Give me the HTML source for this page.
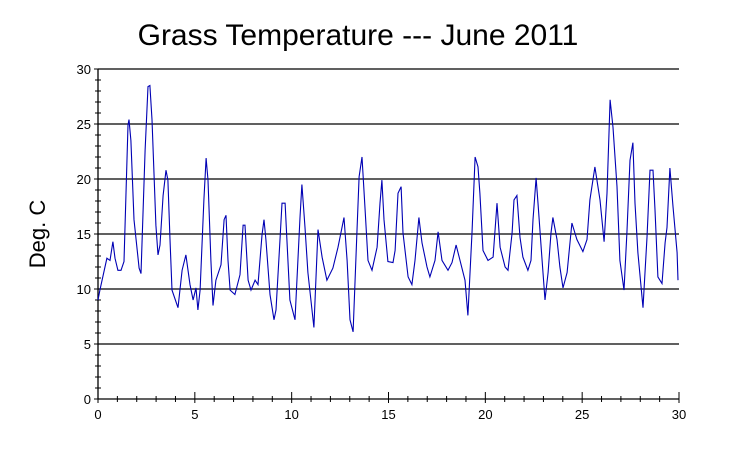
<!DOCTYPE html>
<html><head><meta charset="utf-8"><style>
body{margin:0;background:#fff;width:735px;height:449px;overflow:hidden}
svg{display:block;font-family:"Liberation Sans",sans-serif}
</style></head><body>
<svg id="chart" width="735" height="449">
<text x="358" y="45" text-anchor="middle" font-size="30" fill="#000">Grass Temperature --- June 2011</text>
<text transform="translate(45,234) rotate(-90)" text-anchor="middle" font-size="22" fill="#000">Deg. C</text>
<g id="grid"></g>
<g id="axes"></g>
<path id="line" fill="none" stroke="#0000b4" stroke-width="1.1"></path>
</svg>
<script>
const days=[0,0.10,0.46,0.62,0.77,0.88,1.03,1.19,1.34,1.55,1.60,1.70,1.86,2.12,2.22,2.43,2.58,2.68,2.79,2.99,3.10,3.20,3.36,3.51,3.61,3.72,3.82,4.13,4.34,4.54,4.75,4.91,5.06,5.16,5.27,5.47,5.58,5.68,5.83,5.94,6.09,6.35,6.51,6.61,6.71,6.82,7.07,7.33,7.49,7.59,7.75,7.90,8.11,8.26,8.47,8.57,8.67,8.88,9.09,9.19,9.40,9.50,9.66,9.91,10.17,10.43,10.53,10.69,10.84,11.15,11.36,11.57,11.82,12.13,12.39,12.70,12.86,13.01,13.17,13.37,13.48,13.63,13.79,13.94,14.15,14.41,14.56,14.66,14.77,14.97,15.23,15.34,15.49,15.65,15.75,16.01,16.21,16.37,16.57,16.73,16.99,17.14,17.40,17.56,17.76,18.07,18.28,18.49,18.69,18.95,19.10,19.31,19.47,19.62,19.72,19.88,20.14,20.40,20.60,20.76,21.02,21.17,21.38,21.48,21.63,21.79,21.94,22.20,22.36,22.46,22.62,22.72,22.93,23.08,23.24,23.39,23.49,23.70,23.85,24.01,24.22,24.47,24.73,25.04,25.25,25.40,25.66,25.92,26.13,26.28,26.44,26.59,26.80,26.95,27.16,27.31,27.47,27.62,27.73,27.88,28.14,28.35,28.50,28.66,28.76,28.91,29.12,29.28,29.38,29.53,29.69,29.90,29.95];
const temps=[9.0,9.9,12.8,12.6,14.3,12.8,11.7,11.7,12.5,24.9,25.4,23.5,16.3,11.9,11.4,22.6,28.4,28.5,25.4,15.8,13.1,14.0,18.5,20.8,19.9,14.5,9.9,8.3,11.7,13.1,10.4,9.0,10.1,8.1,9.9,18.1,21.9,19.9,12.6,8.5,10.8,12.2,16.3,16.7,12.6,9.9,9.5,11.3,15.8,15.8,10.8,9.9,10.8,10.4,14.9,16.3,14.5,9.5,7.2,8.1,14.5,17.8,17.8,9.0,7.2,16.5,19.5,15.6,11.5,6.5,15.4,12.9,10.8,11.9,13.8,16.5,12.6,7.2,6.1,15.1,20.2,22.0,17.2,12.6,11.7,13.8,17.8,19.9,16.3,12.5,12.4,13.5,18.7,19.3,15.1,11.1,10.4,12.6,16.5,14.2,12.0,11.1,12.6,15.2,12.6,11.7,12.4,14.0,12.6,10.8,7.6,15.1,22.0,21.1,18.7,13.5,12.6,12.9,17.8,13.8,12.0,11.7,15.1,18.1,18.5,14.7,12.9,11.7,12.6,16.3,20.1,17.8,12.6,9.0,11.5,15.1,16.5,14.5,12.0,10.1,11.5,16.0,14.5,13.4,14.5,18.1,21.1,18.1,14.3,18.7,27.2,24.7,19.3,12.6,9.9,15.1,21.7,23.3,17.8,13.3,8.3,14.7,20.8,20.8,17.2,11.1,10.5,14.2,15.6,21.0,17.5,13.3,10.8];
const xTicks=[0,5,10,15,20,25,30];
const yTicks=[0,5,10,15,20,25,30];
const X0=98,X1=679,Y0=399,Y1=69,XMAX=30,YMAX=30;
const xs=d=>X0+(X1-X0)*d/XMAX;
const ys=v=>Y0-(Y0-Y1)*v/YMAX;
const NS='http://www.w3.org/2000/svg';
function mk(tag,parent,attrs){const e=document.createElementNS(NS,tag);for(const k in attrs)e.setAttribute(k,attrs[k]);parent.appendChild(e);return e;}
const grid=document.getElementById('grid'),axes=document.getElementById('axes');
yTicks.forEach(v=>{
  if(v>0){const g=mk('line',grid,{x1:X0,x2:X1,y1:ys(v),y2:ys(v),stroke:'#000','stroke-width':1.3});
  
  }
  const t=mk('text',axes,{x:X0-7,y:ys(v)+5,'text-anchor':'end','font-size':13,fill:'#000'});t.textContent=v;
  
  
});
for(let v=0;v<=YMAX;v++){const tk=mk('line',axes,{x1:X0-(v%5?3:4),x2:X0+(v%5?3:0),y1:ys(v),y2:ys(v),stroke:'#000'});
  
  }
for(let d=0;d<=XMAX;d++){const tk=mk('line',axes,{x1:xs(d),x2:xs(d),y1:Y0-(d%5?3:7),y2:Y0+(d%5?3:4),stroke:'#000'});
  
  }
xTicks.forEach(d=>{const t=mk('text',axes,{x:xs(d),y:Y0+20,'text-anchor':'middle','font-size':13,fill:'#000'});t.textContent=d;
  
  });
const ax=mk('path',axes,{d:`M${X0},${Y1}V${Y0}H${X1}`,fill:'none',stroke:'#000','stroke-width':1.3});


document.getElementById('line').setAttribute('d',days.map((d,i)=>(i?'L':'M')+xs(d).toFixed(1)+','+ys(temps[i]).toFixed(1)).join(''));
</script>
</body></html>
